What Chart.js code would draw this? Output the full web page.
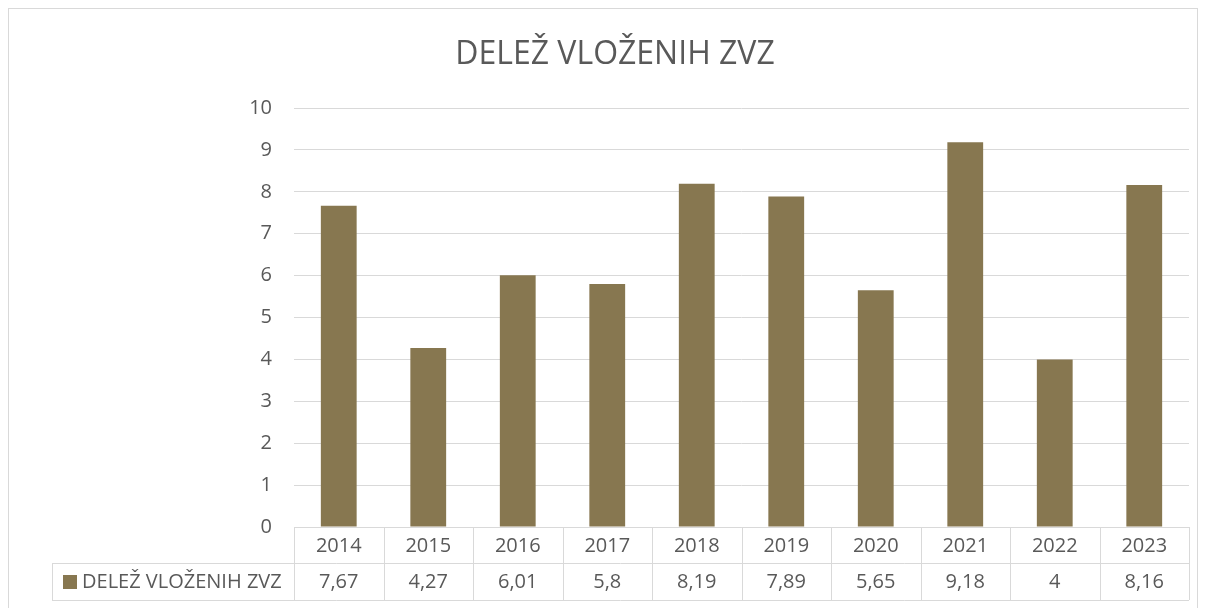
<!DOCTYPE html>
<html>
<head>
<meta charset="utf-8">
<script src="https://cdn.jsdelivr.net/npm/chart.js@4"></script>
<style>
  body { margin: 0; background: #fff; }
  canvas { display: block; }
</style>
</head>
<body>
<canvas id="grafikon" width="1205" height="608"></canvas>
<script>
// podatki
var leta = ['2014', '2015', '2016', '2017', '2018', '2019', '2020', '2021', '2022', '2023'];
var delez = [7.67, 4.27, 6.01, 5.8, 8.19, 7.89, 5.65, 9.18, 4, 8.16];
var oznakaSerije = 'DELEŽ VLOŽENIH ZVZ';
var naslov = 'DELEŽ VLOŽENIH ZVZ';

var barva = '#877750';
var siva = '#595959';
var crte = '#d9d9d9';
var pisava = "'Open Sans', sans-serif";

// naslov, okvir in tabela s podatki pod grafom
var tabelaPlugin = {
  id: 'tabela',
  afterDraw: function (chart) {
    var c = chart.ctx;
    var x = chart.scales.x;
    var area = chart.chartArea;
    var sirina = (x.right - x.left) / leta.length;
    var vrh = area.bottom;
    var sredina = vrh + 36;
    var dno = vrh + 73;
    var levo = 52;

    c.save();
    c.strokeStyle = crte;
    c.lineWidth = 1;
    c.beginPath();
    c.moveTo(x.left, vrh + 0.5); c.lineTo(x.right, vrh + 0.5);
    c.moveTo(levo, sredina + 0.5); c.lineTo(x.right, sredina + 0.5);
    c.moveTo(levo, dno + 0.5); c.lineTo(x.right, dno + 0.5);
    c.moveTo(levo + 0.5, sredina); c.lineTo(levo + 0.5, dno);
    for (var i = 0; i <= leta.length; i++) {
      var px = Math.round(x.left + i * sirina) + 0.5;
      c.moveTo(px, vrh); c.lineTo(px, dno);
    }
    c.stroke();

    // okvir grafa
    c.strokeRect(8.5, 8.5, 1189, 600);

    c.fillStyle = siva;
    c.textAlign = 'center';
    c.textBaseline = 'middle';
    c.font = '32px ' + pisava;
    c.fillText(naslov, 615, 55);

    c.font = '20px ' + pisava;
    leta.forEach(function (l, i) {
      var cx = x.getPixelForValue(i);
      c.fillText(l, cx, (vrh + sredina) / 2 + 1);
      c.fillText(String(delez[i]).replace('.', ','), cx, (sredina + dno) / 2 + 1);
    });

    // legenda
    c.fillStyle = barva;
    c.fillRect(63, Math.round((sredina + dno) / 2) - 7, 14, 14);
    c.fillStyle = siva;
    c.textAlign = 'left';
    c.fillText(oznakaSerije, 82, (sredina + dno) / 2 + 1);
    c.restore();
  }
};

var ctx = document.getElementById('grafikon').getContext('2d');

var mojGraf = new Chart(ctx, {
  type: 'bar',
  data: {
    labels: leta,
    datasets: [{
      label: oznakaSerije,
      data: delez,
      backgroundColor: barva,
      borderWidth: 0,
      categoryPercentage: 1,
      barPercentage: 0.4
    }]
  },
  options: {
    responsive: false,
    animation: false,
    devicePixelRatio: 1,
    layout: {
      padding: { left: 0, right: 16, top: 108, bottom: 81 }
    },
    scales: {
      x: {
        display: false
      },
      y: {
        min: 0,
        max: 10,
        ticks: {
          stepSize: 1,
          color: siva,
          padding: 22,
          font: { family: pisava, size: 20 }
        },
        grid: {
          color: crte,
          lineWidth: 1,
          drawTicks: false
        },
        border: { display: false },
        afterFit: function (scale) {
          scale.width = 294;
        }
      }
    },
    plugins: {
      legend: { display: false },
      tooltip: { enabled: false },
      title: { display: false }
    }
  },
  plugins: [tabelaPlugin]
});
</script>
</body>
</html>
